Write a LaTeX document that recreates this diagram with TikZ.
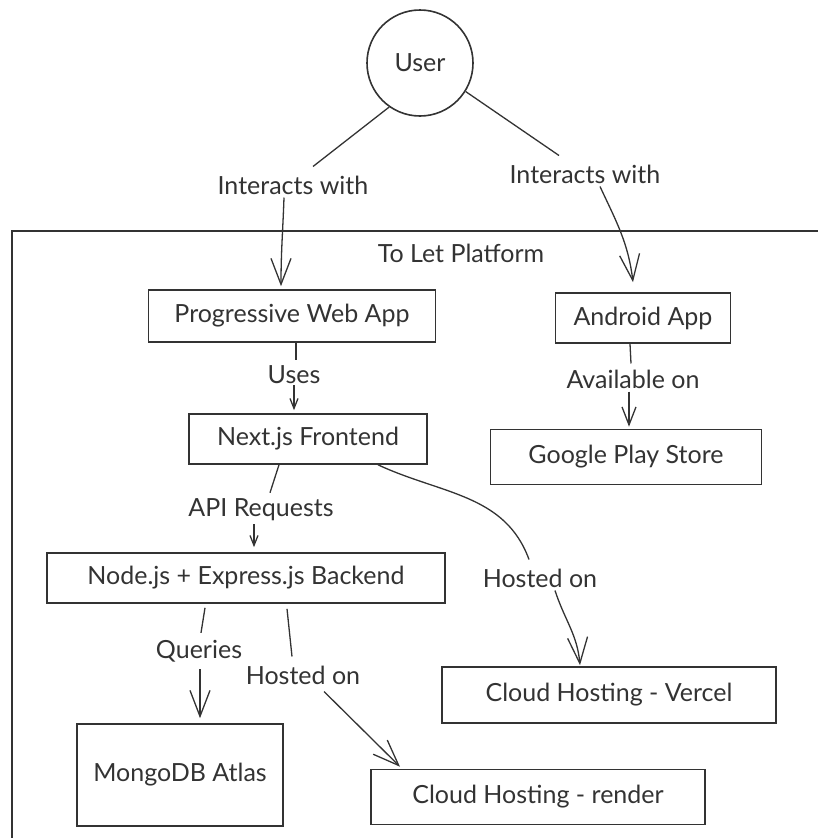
\documentclass[tikz,border=0pt]{standalone}
\usepackage{fontspec}
\setmainfont{Lato}
\usetikzlibrary{arrows.meta}
\definecolor{ink}{HTML}{333333}
\tikzset{
  box/.style={draw=ink, line width=1.6pt, minimum width=#1, inner sep=0pt, font=\fontsize{25}{30}\selectfont, text=ink},
  lbl/.style={inner sep=3pt, font=\fontsize{25}{30}\selectfont, text=ink},
  edge/.style={draw=ink, line width=1.3pt},
  bigarrow/.style={-{Straight Barb[length=26pt,width=20pt,line width=1.3pt]}},
  midarrow/.style={-{Straight Barb[length=18pt,width=14pt,line width=1.3pt]}},
  smallarrow/.style={-{Straight Barb[length=10pt,width=8pt,line width=1.3pt]}}
}
\begin{document}
\begin{tikzpicture}[x=1pt,y=-1pt]
\useasboundingbox (0,0) rectangle (818,838);
% frame
\draw[ink, line width=1.3pt] (818,231) -- (12,231) -- (12,838);
\node[lbl] (plat) at (461,253) {To Let Platform};
% nodes
\node[draw=ink, line width=1.6pt, circle, minimum size=106pt, inner sep=0pt, font=\fontsize{25}{30}\selectfont, text=ink] (user) at (420,63) {User};
\node[box=287pt, minimum height=52pt] (pwa) at (292,316) {Progressive Web App};
\node[box=175pt, minimum height=50pt] (android) at (643,318) {Android App};
\node[box=238pt, minimum height=50pt] (next) at (308,439) {Next.js Frontend};
\node[box=271pt, minimum height=55pt] (gplay) at (626,457) {Google Play Store};
\node[box=398pt, minimum height=50pt] (backend) at (246,578) {Node.js + Express.js Backend};
\node[box=334pt, minimum height=56pt] (vercel) at (609,695) {Cloud Hosting - Vercel};
\node[box=206pt, minimum height=102pt] (mongo) at (180,775) {MongoDB Atlas};
\node[box=334pt, minimum height=55pt] (render) at (538,797) {Cloud Hosting - render};
% labels
\node[lbl] (l1) at (293,185) {Interacts with};
\node[lbl] (l2) at (585,174) {Interacts with};
\node[lbl] (l3) at (294,375) {Uses};
\node[lbl] (l4) at (633,379) {Available on};
\node[lbl] (l5) at (261,510) {API Requests};
\node[lbl] (l6) at (540,578) {Hosted on};
\node[lbl] (l7) at (199,651) {Queries};
\node[lbl] (l8) at (303,675) {Hosted on};
% edges
\draw[edge] (user.235) -- ([xshift=20pt,yshift=6pt]l1.north);
\draw[edge,bigarrow] ([xshift=-9pt]l1.south) to[out=-92,in=90] ([xshift=-11pt,yshift=3pt]pwa.north);
\draw[edge] (user.-32) -- ([xshift=-26pt,yshift=6pt]l2.north);
\draw[edge,bigarrow] ([xshift=15pt]l2.south) to[out=-65,in=97] ([xshift=-10pt,yshift=10pt]android.north);
\draw[edge] ([xshift=4pt]pwa.south) -- ([xshift=2pt,yshift=3pt]l3.north);
\draw[edge,smallarrow] ([yshift=2pt]l3.south) -- ([xshift=-14pt,yshift=3pt]next.north);
\draw[edge] ([xshift=-13pt]android.south) -- ([xshift=-2pt,yshift=3pt]l4.north);
\draw[edge,midarrow] ([xshift=-4pt]l4.south) -- ([xshift=3pt,yshift=2pt]gplay.north);
\draw[edge] ([xshift=-29pt]next.south) -- ([xshift=9pt,yshift=3pt]l5.north);
\draw[edge,smallarrow] ([xshift=-7pt]l5.south) -- ([xshift=8pt,yshift=5pt]backend.north);
\draw[edge] ([xshift=70pt]next.south) to[out=-25,in=110] ([xshift=-11pt,yshift=6pt]l6.north);
\draw[edge,bigarrow] ([xshift=15pt]l6.south) to[out=-72,in=95] ([xshift=-29pt,yshift=1pt]vercel.north);
\draw[edge] ([xshift=-41pt,yshift=-4pt]backend.south) -- ([xshift=2pt,yshift=4pt]l7.north);
\draw[edge,bigarrow] ([xshift=1pt,yshift=-4pt]l7.south) -- ([xshift=20pt,yshift=5pt]mongo.north);
\draw[edge] ([xshift=41pt,yshift=-5pt]backend.south) -- ([xshift=-11pt,yshift=6pt]l8.north);
\draw[edge,bigarrow] ([xshift=21pt,yshift=-4pt]l8.south) -- ([xshift=-138pt,yshift=2pt]render.north);
\end{tikzpicture}
\end{document}
